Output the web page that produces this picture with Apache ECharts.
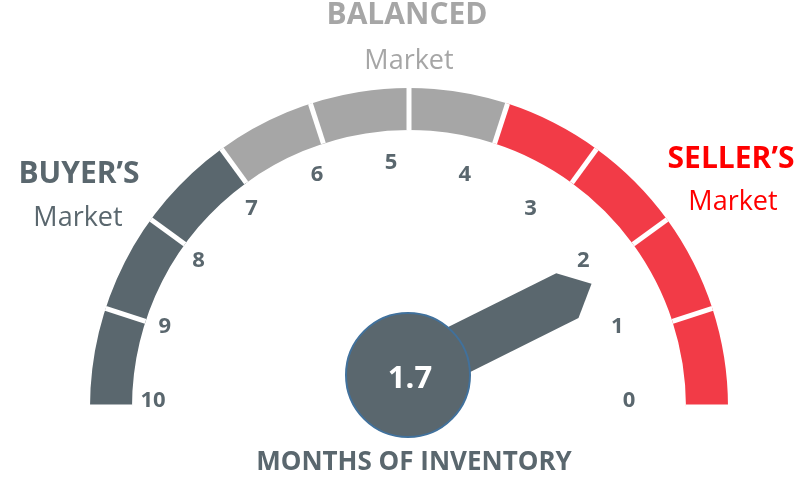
<!DOCTYPE html>
<html>
<head>
<meta charset="utf-8">
<script src="https://cdn.jsdelivr.net/npm/echarts@6/dist/echarts.min.js"></script>
<style>
html, body { margin: 0; background: #fff; }
#c { width: 805px; height: 481px; }
</style>
</head>
<body>
<div id="c"></div>
<script>
// scale runs 0 (right) to 10 (left)
var scaleMin = 0
var scaleMax = 10
var tickLabels = ['0', '1', '2', '3', '4', '5', '6', '7', '8', '9', '10']
var bandEnds = [4, 7, 10]
var bandColors = ['#f23b47', '#a6a6a6', '#5a676e']
var marketNames = ['SELLER\u2019S', 'BALANCED', 'BUYER\u2019S']
var marketSub = 'Market'
var monthsOfInventory = 1.7
var axisTitle = 'MONTHS OF INVENTORY'

var FONT = '"Open Sans", "Noto Sans", sans-serif'
var slate = '#5a676e'

function txt(x, y, s, size, weight, color) {
  return {
    type: 'text', x: x, y: y, silent: true,
    style: {
      text: s, fill: color, align: 'center', verticalAlign: 'middle',
      font: weight + ' ' + size + 'px ' + FONT
    }
  }
}

// shared bits for the hidden parts of each gauge layer
var off = { show: false }
function layer(extra) {
  var base = {
    type: 'gauge',
    startAngle: 0,
    endAngle: 180,
    clockwise: false,
    min: scaleMin,
    max: scaleMax,
    splitNumber: 10,
    axisLine: { show: false, lineStyle: { width: 0 } },
    splitLine: { show: false, length: 0, distance: 0 },
    axisTick: off,
    axisLabel: off,
    pointer: off,
    anchor: off,
    title: off,
    detail: off,
    data: []
  }
  for (var k in extra) base[k] = extra[k]
  return base
}

var chart = echarts.init(document.getElementById('c'))
chart.setOption({
  animation: false,
  graphic: [
    txt(407, 15, marketNames[1], 30, 'bold', '#a6a6a6'),
    txt(409, 61, marketSub, 27, 'normal', '#a6a6a6'),
    txt(79, 174, marketNames[2], 30, 'bold', slate),
    txt(78, 218, marketSub, 27, 'normal', slate),
    txt(731, 159, marketNames[0], 30, 'bold', '#ff0000'),
    txt(733, 202, marketSub, 27, 'normal', '#ff0000'),
    txt(414, 463, axisTitle, 26, 'bold', slate)
  ],
  series: [
    // coloured band with white gaps
    layer({
      center: [409, 407],
      radius: 319,
      axisLine: {
        lineStyle: {
          width: 42,
          color: bandEnds.map(function (v, i) { return [v / scaleMax, bandColors[i]] })
        }
      },
      splitLine: { length: 42, distance: -42, lineStyle: { color: '#fff', width: 5 } }
    }),
    // tick numbers
    layer({
      center: [391, 401],
      radius: 239,
      axisLabel: {
        distance: 0,
        formatter: function (v) { return '{t|' + tickLabels[v] + '}' },
        rich: {
          t: {
            width: 2, height: 2, lineHeight: 2, align: 'center', verticalAlign: 'middle',
            fontFamily: FONT, fontSize: 22, fontWeight: 'bold', color: slate
          }
        }
      }
    }),
    // needle and hub
    layer({
      center: [408, 375],
      radius: 205,
      startAngle: -5,
      pointer: {
        icon: 'path://M0,27L25,0L50,27L50,205L0,205Z',
        width: 50,
        length: 205,
        itemStyle: { color: slate }
      },
      anchor: {
        show: true,
        showAbove: true,
        size: 124,
        itemStyle: { color: slate, borderColor: '#41719c', borderWidth: 2 }
      },
      data: [{ value: monthsOfInventory }]
    }),
    // value in the hub
    layer({
      z: 5,
      center: [408, 375],
      radius: 205,
      startAngle: -5,
      detail: {
        offsetCenter: [2, 4],
        formatter: function (v) { return v.toFixed(1) },
        color: '#fff',
        fontFamily: FONT,
        fontSize: 31,
        fontWeight: 'bold'
      },
      data: [{ value: monthsOfInventory }]
    })
  ]
})
</script>
</body>
</html>
